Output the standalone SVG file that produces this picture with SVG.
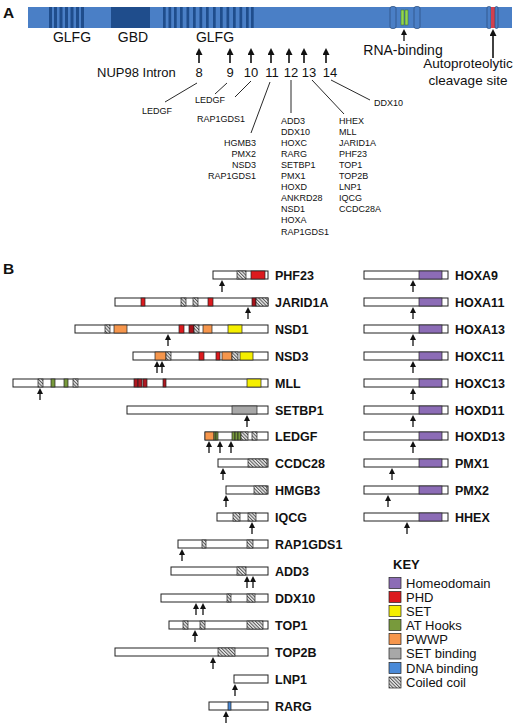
<svg xmlns="http://www.w3.org/2000/svg" width="520" height="726" viewBox="0 0 520 726">
<defs>
<style>
text{font-family:"Liberation Sans",Arial,sans-serif;fill:#111}
.panel{font-size:15.5px;font-weight:bold}
.dom{font-size:14px;text-anchor:middle}
.num{font-size:13px;text-anchor:middle}
.gl{font-size:9px}
.gr{font-size:9px;text-anchor:end}
.lbl{font-size:12.5px;font-weight:bold}
.key{font-size:13px}
.bar{fill:#fff;stroke:#222;stroke-width:1}
.cc{fill:url(#hatch);stroke:#222;stroke-width:0.7}
.phd{fill:#dc1a1e;stroke:#222;stroke-width:0.7}
.set{fill:#f5ef00;stroke:#222;stroke-width:0.7}
.at{fill:#789a3c;stroke:#222;stroke-width:0.7}
.pwwp{fill:#f6964c;stroke:#222;stroke-width:0.7}
.sb{fill:#a8a8a8;stroke:#222;stroke-width:0.7}
.dna{fill:#4a8ad8;stroke:#222;stroke-width:0.7}
.hd{fill:#8c6cb6;stroke:#222;stroke-width:0.7}
.arr{stroke:#111;stroke-width:1.3;fill:none;marker-end:url(#ah)}
.arrA{stroke:#111;stroke-width:1.6;fill:none;marker-end:url(#ahA)}
.ln{stroke:#111;stroke-width:0.9;fill:none}
.stripe{fill:#1f4d8c}
</style>
<pattern id="hatch" patternUnits="userSpaceOnUse" width="2.4" height="2.4" patternTransform="rotate(-45)">
<rect width="2.4" height="2.4" fill="#ececec"/><rect width="1" height="2.4" fill="#555"/>
</pattern>
<marker id="ah" markerUnits="userSpaceOnUse" markerWidth="6" markerHeight="6" refX="3" refY="3" orient="auto"><path d="M0,0 L6,3 L0,6 z" fill="#111"/></marker>
<marker id="ahA" markerUnits="userSpaceOnUse" markerWidth="7" markerHeight="7" refX="3.5" refY="3.5" orient="auto"><path d="M0,0 L7,3.5 L0,7 z" fill="#111"/></marker>
</defs>
<rect width="520" height="726" fill="#fff"/>

<!-- Panel A -->
<text class="panel" x="3" y="18">A</text>
<g id="nup98">
<rect x="28" y="7" width="484" height="21" fill="#4a7fc6"/>
<rect class="stripe" x="49" y="7" width="3" height="21"/>
<rect class="stripe" x="54" y="7" width="3" height="21"/>
<rect class="stripe" x="59.5" y="7" width="3" height="21"/>
<rect class="stripe" x="65" y="7" width="3" height="21"/>
<rect class="stripe" x="70.5" y="7" width="3" height="21"/>
<rect class="stripe" x="76" y="7" width="3" height="21"/>
<rect class="stripe" x="81" y="7" width="3" height="21"/>
<rect class="stripe" x="111" y="7" width="39" height="21"/>
<rect class="stripe" x="163" y="7" width="2.7" height="21"/>
<rect class="stripe" x="168.5" y="7" width="2.7" height="21"/>
<rect class="stripe" x="174" y="7" width="2.7" height="21"/>
<rect class="stripe" x="180" y="7" width="2.7" height="21"/>
<rect class="stripe" x="186.5" y="7" width="2.7" height="21"/>
<rect class="stripe" x="193" y="7" width="2.7" height="21"/>
<rect class="stripe" x="199.5" y="7" width="2.7" height="21"/>
<rect class="stripe" x="206" y="7" width="2.7" height="21"/>
<rect class="stripe" x="213" y="7" width="2.7" height="21"/>
<rect class="stripe" x="220" y="7" width="2.7" height="21"/>
<rect class="stripe" x="226.5" y="7" width="2.7" height="21"/>
<rect class="stripe" x="233" y="7" width="2.7" height="21"/>
<rect class="stripe" x="239.5" y="7" width="2.7" height="21"/>
<rect class="stripe" x="246" y="7" width="2.7" height="21"/>
<rect class="stripe" x="251" y="7" width="2.7" height="21"/>
<rect x="390" y="6.5" width="6" height="22" rx="2" fill="#4a7fc6" stroke="#2a4a78" stroke-width="0.7"/>
<rect x="414" y="6.5" width="6" height="22" rx="2" fill="#4a7fc6" stroke="#2a4a78" stroke-width="0.7"/>
<rect x="401" y="10" width="3" height="15" fill="#92d650" stroke="#3d6a22" stroke-width="0.5"/>
<rect x="405" y="10" width="3" height="15" fill="#92d650" stroke="#3d6a22" stroke-width="0.5"/>
<rect x="487" y="6.5" width="4" height="22" rx="1.5" fill="#4a7fc6" stroke="#2a4a78" stroke-width="0.7"/>
<rect x="491" y="7" width="4" height="21" fill="#d2404e"/>
<rect x="495" y="6.5" width="3" height="22" rx="1.5" fill="#4a7fc6" stroke="#2a4a78" stroke-width="0.7"/>
</g>
<text class="dom" x="72" y="42">GLFG</text>
<text class="dom" x="133" y="42">GBD</text>
<text class="dom" x="215" y="42">GLFG</text>
<text class="dom" x="403" y="55">RNA-binding</text>
<text class="dom" x="468" y="68" style="font-size:13.5px">Autoproteolytic</text>
<text class="dom" x="468" y="85" style="font-size:13.5px">cleavage site</text>
<text x="97" y="77" style="font-size:13px">NUP98 Intron</text>
<text class="num" x="199" y="77">8</text>
<text class="num" x="230" y="77">9</text>
<text class="num" x="251" y="77">10</text>
<text class="num" x="272" y="77">11</text>
<text class="num" x="291" y="77">12</text>
<text class="num" x="309" y="77">13</text>
<text class="num" x="330" y="77">14</text>

<g id="connectors-A">
<line class="arrA" x1="199" y1="63" x2="199" y2="51.5"/>
<line class="arrA" x1="230" y1="63" x2="230" y2="51.5"/>
<line class="arrA" x1="251" y1="63" x2="251" y2="51.5"/>
<line class="arrA" x1="271" y1="63" x2="271" y2="51.5"/>
<line class="arrA" x1="289" y1="63" x2="289" y2="51.5"/>
<line class="arrA" x1="304" y1="63" x2="304" y2="51.5"/>
<line class="arrA" x1="326" y1="63" x2="326" y2="51.5"/>
<line class="arr" x1="404" y1="41" x2="404" y2="32"/>
<line class="arrA" x1="493" y1="58" x2="493" y2="32.5"/>
<line class="ln" x1="197" y1="83" x2="165" y2="102"/>
<line class="ln" x1="227" y1="83" x2="215" y2="94"/>
<line class="ln" x1="251" y1="81" x2="235" y2="97"/>
<line class="ln" x1="270" y1="82" x2="251" y2="133"/>
<line class="ln" x1="291" y1="80" x2="291" y2="113"/>
<line class="ln" x1="312" y1="80" x2="344" y2="114"/>
<line class="ln" x1="331" y1="80" x2="370" y2="100"/>
</g>
<g id="genes-A">
<text class="gl" x="142" y="114">LEDGF</text>
<text class="gl" x="195" y="103">LEDGF</text>
<text class="gl" x="197" y="122">RAP1GDS1</text>
<text class="gr" x="256" y="146">HGMB3</text>
<text class="gr" x="256" y="157">PMX2</text>
<text class="gr" x="256" y="168">NSD3</text>
<text class="gr" x="256" y="179">RAP1GDS1</text>
<text class="gl" x="281" y="124">ADD3</text>
<text class="gl" x="281" y="135">DDX10</text>
<text class="gl" x="281" y="146">HOXC</text>
<text class="gl" x="281" y="157">RARG</text>
<text class="gl" x="281" y="168">SETBP1</text>
<text class="gl" x="281" y="179">PMX1</text>
<text class="gl" x="281" y="190">HOXD</text>
<text class="gl" x="281" y="201">ANKRD28</text>
<text class="gl" x="281" y="212">NSD1</text>
<text class="gl" x="281" y="223">HOXA</text>
<text class="gl" x="281" y="235">RAP1GDS1</text>
<text class="gl" x="339" y="124">HHEX</text>
<text class="gl" x="339" y="135">MLL</text>
<text class="gl" x="339" y="146">JARID1A</text>
<text class="gl" x="339" y="157">PHF23</text>
<text class="gl" x="339" y="168">TOP1</text>
<text class="gl" x="339" y="179">TOP2B</text>
<text class="gl" x="339" y="190">LNP1</text>
<text class="gl" x="339" y="201">IQCG</text>
<text class="gl" x="339" y="212">CCDC28A</text>
<text class="gl" x="374" y="106">DDX10</text>
</g>

<!-- Panel B -->
<text class="panel" x="3" y="274">B</text>

<g id="PHF23" transform="translate(0,271)">
<rect class="bar" x="213" y="0" width="55" height="8"/>
<rect class="cc" x="237" y="0" width="9" height="8"/>
<rect class="phd" x="251" y="0" width="14" height="8"/>
<text class="lbl" x="275" y="8.5">PHF23</text>
</g>
<g id="JARID1A" transform="translate(0,298)">
<rect class="bar" x="115" y="0" width="153" height="8"/>
<rect class="phd" x="141" y="0" width="4" height="8"/>
<rect class="cc" x="181" y="0" width="5" height="8"/>
<rect class="cc" x="193" y="0" width="5" height="8"/>
<rect class="phd" x="208" y="0" width="5" height="8"/>
<rect class="phd" x="252" y="0" width="4" height="8" style="fill:#a8121a"/>
<rect class="cc" x="256" y="0" width="12" height="8"/>
<text class="lbl" x="275" y="8.5">JARID1A</text>
</g>
<g id="NSD1" transform="translate(0,325)">
<rect class="bar" x="75" y="0" width="193" height="8"/>
<rect class="cc" x="105" y="0" width="5" height="8"/>
<rect class="pwwp" x="114" y="0" width="13" height="8"/>
<rect class="phd" x="179" y="0" width="5" height="8"/>
<rect class="phd" x="189" y="0" width="5" height="8" style="fill:#a8121a"/>
<rect class="cc" x="194" y="0" width="5" height="8"/>
<rect class="pwwp" x="203" y="0" width="9" height="8"/>
<rect class="set" x="228" y="0" width="14" height="8"/>
<text class="lbl" x="275" y="8.5">NSD1</text>
</g>
<g id="NSD3" transform="translate(0,352)">
<rect class="bar" x="133" y="0" width="135" height="8"/>
<rect class="pwwp" x="155" y="0" width="11" height="8"/>
<rect class="cc" x="166" y="0" width="5" height="8"/>
<rect class="phd" x="199" y="0" width="5" height="8"/>
<rect class="phd" x="216" y="0" width="4" height="8"/>
<rect class="pwwp" x="222" y="0" width="10" height="8"/>
<rect class="cc" x="232" y="0" width="6" height="8"/>
<rect class="set" x="240" y="0" width="13" height="8"/>
<text class="lbl" x="275" y="8.5">NSD3</text>
</g>
<g id="MLL" transform="translate(0,379)">
<rect class="bar" x="13" y="0" width="255" height="8"/>
<rect class="cc" x="38" y="0" width="5" height="8"/>
<rect class="at" x="51" y="0" width="4" height="8"/>
<rect class="at" x="64" y="0" width="4" height="8"/>
<rect class="cc" x="73" y="0" width="5" height="8"/>
<rect class="phd" x="134" y="0" width="4" height="8" style="fill:#b01820"/>
<rect class="phd" x="138" y="0" width="4" height="8" style="fill:#b01820"/>
<rect class="phd" x="143" y="0" width="4" height="8" style="fill:#b01820"/>
<rect class="phd" x="163" y="0" width="3" height="8" style="fill:#b01820"/>
<rect class="set" x="247" y="0" width="14" height="8"/>
<text class="lbl" x="275" y="8.5">MLL</text>
</g>
<g id="SETBP1" transform="translate(0,406)">
<rect class="bar" x="127" y="0" width="141" height="8"/>
<rect class="sb" x="232" y="0" width="25" height="8"/>
<text class="lbl" x="275" y="8.5">SETBP1</text>
</g>
<g id="LEDGF" transform="translate(0,432)">
<rect class="bar" x="205" y="0" width="63" height="8"/>
<rect class="pwwp" x="205" y="0" width="9" height="8"/>
<rect class="at" x="214" y="0" width="2" height="8"/>
<rect class="at" x="216" y="0" width="2" height="8"/>
<rect class="at" x="232" y="0" width="3" height="8"/>
<rect class="at" x="235" y="0" width="3" height="8"/>
<rect class="at" x="238" y="0" width="3" height="8"/>
<rect class="cc" x="241" y="0" width="7" height="8"/>
<rect class="cc" x="252" y="0" width="5" height="8"/>
<text class="lbl" x="275" y="8.5">LEDGF</text>
</g>
<g id="CCDC28" transform="translate(0,459)">
<rect class="bar" x="218" y="0" width="50" height="8"/>
<rect class="cc" x="248" y="0" width="19" height="8"/>
<text class="lbl" x="275" y="8.5">CCDC28</text>
</g>
<g id="HMGB3" transform="translate(0,486)">
<rect class="bar" x="226" y="0" width="42" height="8"/>
<rect class="cc" x="254" y="0" width="13" height="8"/>
<text class="lbl" x="275" y="8.5">HMGB3</text>
</g>
<g id="IQCG" transform="translate(0,513)">
<rect class="bar" x="217" y="0" width="51" height="8"/>
<rect class="cc" x="233" y="0" width="7" height="8"/>
<rect class="cc" x="248" y="0" width="8" height="8"/>
<text class="lbl" x="275" y="8.5">IQCG</text>
</g>
<g id="RAP1GDS1" transform="translate(0,540)">
<rect class="bar" x="178" y="0" width="90" height="8"/>
<rect class="cc" x="202" y="0" width="4" height="8"/>
<rect class="cc" x="247" y="0" width="6" height="8"/>
<text class="lbl" x="275" y="8.5">RAP1GDS1</text>
</g>
<g id="ADD3" transform="translate(0,567)">
<rect class="bar" x="171" y="0" width="97" height="8"/>
<rect class="cc" x="237" y="0" width="9" height="8"/>
<text class="lbl" x="275" y="8.5">ADD3</text>
</g>
<g id="DDX10" transform="translate(0,594)">
<rect class="bar" x="161" y="0" width="107" height="8"/>
<rect class="cc" x="227" y="0" width="4" height="8"/>
<rect class="cc" x="247" y="0" width="8" height="8"/>
<text class="lbl" x="275" y="8.5">DDX10</text>
</g>
<g id="TOP1" transform="translate(0,621)">
<rect class="bar" x="169" y="0" width="99" height="8"/>
<rect class="cc" x="183" y="0" width="5" height="8"/>
<rect class="cc" x="200" y="0" width="5" height="8"/>
<rect class="cc" x="247" y="0" width="16" height="8"/>
<text class="lbl" x="275" y="8.5">TOP1</text>
</g>
<g id="TOP2B" transform="translate(0,648)">
<rect class="bar" x="115" y="0" width="153" height="8"/>
<rect class="cc" x="218" y="0" width="17" height="8"/>
<text class="lbl" x="275" y="8.5">TOP2B</text>
</g>
<g id="LNP1" transform="translate(0,675)">
<rect class="bar" x="234" y="0" width="34" height="8"/>
<text class="lbl" x="275" y="8.5">LNP1</text>
</g>
<g id="RARG" transform="translate(0,702)">
<rect class="bar" x="209" y="0" width="59" height="8"/>
<rect class="dna" x="228" y="0" width="3" height="8"/>
<text class="lbl" x="275" y="8.5">RARG</text>
</g>

<g id="HOXA9" transform="translate(0,271)"><rect class="bar" x="364" y="0" width="84" height="8"/><rect class="hd" x="419" y="0" width="23" height="8"/><text class="lbl" x="455" y="8.5">HOXA9</text></g>
<g id="HOXA11" transform="translate(0,298)"><rect class="bar" x="364" y="0" width="84" height="8"/><rect class="hd" x="419" y="0" width="23" height="8"/><text class="lbl" x="455" y="8.5">HOXA11</text></g>
<g id="HOXA13" transform="translate(0,325)"><rect class="bar" x="364" y="0" width="84" height="8"/><rect class="hd" x="419" y="0" width="23" height="8"/><text class="lbl" x="455" y="8.5">HOXA13</text></g>
<g id="HOXC11" transform="translate(0,352)"><rect class="bar" x="364" y="0" width="84" height="8"/><rect class="hd" x="419" y="0" width="23" height="8"/><text class="lbl" x="455" y="8.5">HOXC11</text></g>
<g id="HOXC13" transform="translate(0,379)"><rect class="bar" x="364" y="0" width="84" height="8"/><rect class="hd" x="419" y="0" width="23" height="8"/><text class="lbl" x="455" y="8.5">HOXC13</text></g>
<g id="HOXD11" transform="translate(0,406)"><rect class="bar" x="364" y="0" width="84" height="8"/><rect class="hd" x="419" y="0" width="23" height="8"/><text class="lbl" x="455" y="8.5">HOXD11</text></g>
<g id="HOXD13" transform="translate(0,432)"><rect class="bar" x="364" y="0" width="84" height="8"/><rect class="hd" x="419" y="0" width="23" height="8"/><text class="lbl" x="455" y="8.5">HOXD13</text></g>
<g id="PMX1" transform="translate(0,459)"><rect class="bar" x="364" y="0" width="84" height="8"/><rect class="hd" x="419" y="0" width="23" height="8"/><text class="lbl" x="455" y="8.5">PMX1</text></g>
<g id="PMX2" transform="translate(0,486)"><rect class="bar" x="364" y="0" width="84" height="8"/><rect class="hd" x="419" y="0" width="23" height="8"/><text class="lbl" x="455" y="8.5">PMX2</text></g>
<g id="HHEX" transform="translate(0,513)"><rect class="bar" x="364" y="0" width="84" height="8"/><rect class="hd" x="419" y="0" width="23" height="8"/><text class="lbl" x="455" y="8.5">HHEX</text></g>

<g id="connectors-B">
<line class="arr" x1="222" y1="292" x2="222" y2="283"/>
<line class="arr" x1="248" y1="319" x2="248" y2="310"/>
<line class="arr" x1="168" y1="346" x2="168" y2="337"/>
<line class="arr" x1="157" y1="373" x2="157" y2="364"/>
<line class="arr" x1="162" y1="373" x2="162" y2="364"/>
<line class="arr" x1="40" y1="400" x2="40" y2="391"/>
<line class="arr" x1="247" y1="427" x2="247" y2="418"/>
<line class="arr" x1="209" y1="453" x2="209" y2="444"/>
<line class="arr" x1="220" y1="453" x2="220" y2="444"/>
<line class="arr" x1="231" y1="453" x2="231" y2="444"/>
<line class="arr" x1="223" y1="480" x2="223" y2="471"/>
<line class="arr" x1="226" y1="507" x2="226" y2="498"/>
<line class="arr" x1="252" y1="534" x2="252" y2="525"/>
<line class="arr" x1="182" y1="561" x2="182" y2="552"/>
<line class="arr" x1="247" y1="588" x2="247" y2="579"/>
<line class="arr" x1="253" y1="588" x2="253" y2="579"/>
<line class="arr" x1="196" y1="615" x2="196" y2="606"/>
<line class="arr" x1="203" y1="615" x2="203" y2="606"/>
<line class="arr" x1="195" y1="642" x2="195" y2="633"/>
<line class="arr" x1="213" y1="669" x2="213" y2="660"/>
<line class="arr" x1="235" y1="696" x2="235" y2="687"/>
<line class="arr" x1="226" y1="723" x2="226" y2="714"/>
<line class="arr" x1="413" y1="292" x2="413" y2="283"/>
<line class="arr" x1="413" y1="319" x2="413" y2="310"/>
<line class="arr" x1="413" y1="346" x2="413" y2="337"/>
<line class="arr" x1="413" y1="373" x2="413" y2="364"/>
<line class="arr" x1="413" y1="400" x2="413" y2="391"/>
<line class="arr" x1="413" y1="427" x2="413" y2="418"/>
<line class="arr" x1="413" y1="453" x2="413" y2="444"/>
<line class="arr" x1="392" y1="480" x2="392" y2="471"/>
<line class="arr" x1="388" y1="507" x2="388" y2="498"/>
<line class="arr" x1="407" y1="534" x2="407" y2="525"/>
</g>

<g id="key">
<text class="key" x="393" y="569" style="font-weight:bold">KEY</text>
<rect class="hd" x="389" y="577.5" width="12" height="11"/><text class="key" x="406" y="587.5">Homeodomain</text>
<rect class="phd" x="389" y="591.5" width="12" height="11"/><text class="key" x="406" y="601.5">PHD</text>
<rect class="set" x="389" y="605.5" width="12" height="11"/><text class="key" x="406" y="615.5">SET</text>
<rect class="at" x="389" y="619.5" width="12" height="11"/><text class="key" x="406" y="629.5">AT Hooks</text>
<rect class="pwwp" x="389" y="633.5" width="12" height="11"/><text class="key" x="406" y="643.5">PWWP</text>
<rect class="sb" x="389" y="648" width="12" height="11"/><text class="key" x="406" y="658">SET binding</text>
<rect class="dna" x="389" y="662.5" width="12" height="11"/><text class="key" x="406" y="672.5">DNA binding</text>
<rect class="cc" x="389" y="677" width="12" height="11"/><text class="key" x="406" y="687">Coiled coil</text>
</g>
</svg>
